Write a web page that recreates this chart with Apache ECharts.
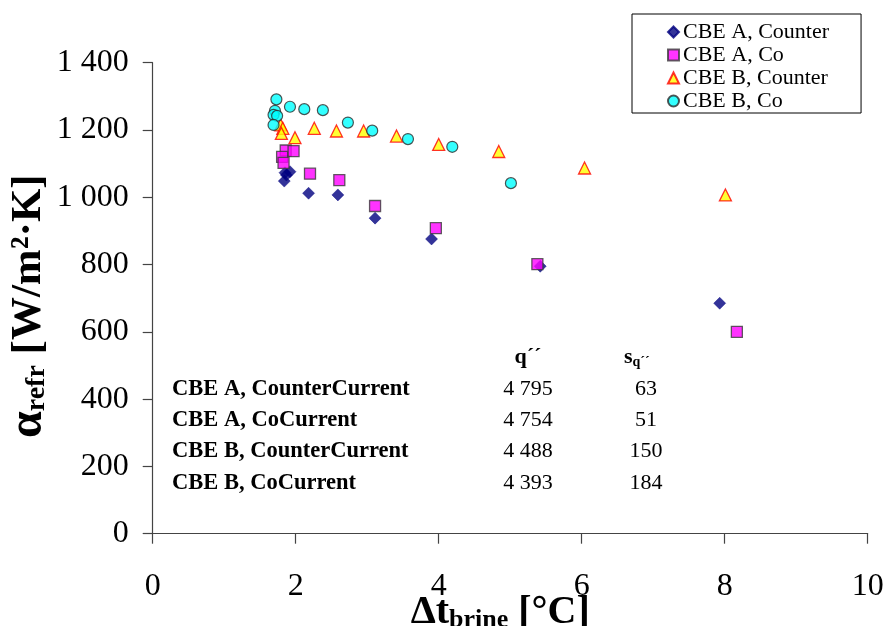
<!DOCTYPE html>
<html>
<head>
<meta charset="utf-8">
<script src="https://cdn.jsdelivr.net/npm/echarts@6/dist/echarts.min.js"></script>
<style>html,body{margin:0;padding:0;background:#fff}#c{width:887px;height:626px}</style>
</head>
<body>
<div id="c"></div>
<script>
// CBE A, Counter current: [Δt_brine, α_refr]
const cbeACounter = [[1.84,1048],[1.87,1066],[1.92,1076],[1.85,1073],[2.18,1012],[2.59,1007],[3.11,938],[3.90,876],[5.42,795],[7.93,685]];
// CBE A, Co current
const cbeACo = [[1.86,1139],[1.97,1137],[1.81,1120],[1.83,1102],[2.20,1070],[2.61,1051],[3.11,974],[3.96,908],[5.38,801],[8.17,600]];
// CBE B, Counter current
const cbeBCounter = [[1.79,1215],[1.82,1205],[1.80,1190],[1.99,1177],[2.26,1205],[2.57,1197],[2.95,1197],[3.41,1182],[4.00,1157],[4.84,1136],[6.04,1087],[8.01,1007]];
// CBE B, Co current
const cbeBCo = [[1.73,1291],[1.92,1269],[2.12,1262],[2.38,1259],[1.71,1257],[1.69,1245],[1.74,1242],[1.69,1215],[2.73,1222],[3.07,1198],[3.57,1173],[4.19,1150],[5.01,1042]];

const seriesNames = ['CBE A, Counter','CBE A, Co','CBE B, Counter','CBE B, Co'];
const tableRows = ['CBE A, CounterCurrent','CBE A, CoCurrent','CBE B, CounterCurrent','CBE B, CoCurrent'];
const tableQ = ['4 795','4 754','4 488','4 393'];
const tableS = ['63','51','150','184'];
const xTicks = [0,2,4,6,8,10];
const yTicks = [0,200,400,600,800,1000,1200,1400];

const FF = '"Liberation Serif","Times New Roman",serif';
const chart = echarts.init(document.getElementById('c'));

function fmtY(v){
  if (v >= 1000) return Math.floor(v/1000) + ' ' + String(v%1000).padStart(3,'0');
  return String(v);
}

const tableGraphics = [];
tableGraphics.push({type:'text', x:528, y:357, style:{text:'q´´', font:'bold 22px '+FF, fill:'#000', textAlign:'center', textVerticalAlign:'middle'}});
tableGraphics.push({type:'text', x:624, y:345, style:{text:'{s|s}{q|q´´}', font:'bold 22px '+FF, fill:'#000',
  rich:{s:{fontSize:22,fontWeight:'bold',fontFamily:FF,fill:'#000'}, q:{fontSize:14,fontWeight:'bold',fontFamily:FF,padding:[10,0,0,0]}}}});
tableRows.forEach((r,i)=>{
  const y = 389 + i*31.3;
  tableGraphics.push({type:'text', x:172, y:y, style:{text:r, font:'bold 22.5px '+FF, fill:'#000', textVerticalAlign:'middle'}});
  tableGraphics.push({type:'text', x:528, y:y, style:{text:tableQ[i], font:'22px '+FF, fill:'#000', textAlign:'center', textVerticalAlign:'middle'}});
  tableGraphics.push({type:'text', x:646, y:y, style:{text:tableS[i], font:'22px '+FF, fill:'#000', textAlign:'center', textVerticalAlign:'middle'}});
});

chart.setOption({
  animation:false,
  backgroundColor:'#fff',
  grid:{left:152.7, right:19.3, top:62.7, bottom:92.3, containLabel:false, outerBoundsMode:'none'},
  legend:{
    orient:'vertical', left:632, top:14,
    padding:[7,32,1,35], itemGap:1, itemWidth:11, itemHeight:11,
    borderColor:'#000', borderWidth:1, backgroundColor:'#fff',
    textStyle:{fontFamily:FF, fontSize:22, color:'#000', padding:[0,0,0,-1]},
    data:seriesNames
  },
  xAxis:{
    type:'value', min:xTicks[0], max:xTicks[xTicks.length-1], interval:2,
    axisLine:{onZero:false, lineStyle:{color:'#444', width:1.2}},
    axisTick:{show:true, length:10, inside:false, lineStyle:{color:'#444', width:1.2}},
    splitLine:{show:false},
    axisLabel:{fontFamily:FF, fontSize:32, color:'#000', margin:37},
    name:'{d|Δt}{s|brine}{d| [°C]}', nameLocation:'middle', nameGap:58, nameMoveOverlap:false,
    nameTextStyle:{fontFamily:FF, fontSize:40, fontWeight:'bold', color:'#000', padding:[0,20,0,0],
      rich:{d:{fontFamily:FF,fontSize:40,fontWeight:'bold',color:'#000'}, s:{fontFamily:FF,fontSize:26,fontWeight:'bold',color:'#000',padding:[16,0,0,0]}}}
  },
  yAxis:{
    type:'value', min:yTicks[0], max:yTicks[yTicks.length-1], interval:200,
    axisLine:{show:true, lineStyle:{color:'#444', width:1.2}},
    axisTick:{show:true, length:10, inside:false, lineStyle:{color:'#444', width:1.2}},
    splitLine:{show:false},
    axisLabel:{fontFamily:FF, fontSize:32, color:'#000', margin:24, formatter:fmtY},
    name:'{a|α}{s|refr}{d| [W/m²·K]}', nameLocation:'middle', nameGap:100, nameMoveOverlap:false,
    nameTextStyle:{fontFamily:FF, fontSize:43, fontWeight:'bold', color:'#000', padding:[0,16,0,0],
      rich:{a:{fontFamily:FF,fontSize:48,fontWeight:'bold',color:'#000'}, d:{fontFamily:FF,fontSize:43,fontWeight:'bold',color:'#000'}, s:{fontFamily:FF,fontSize:28,fontWeight:'bold',color:'#000',padding:[17,0,0,0]}}}
  },
  series:[
    {name:seriesNames[0], type:'scatter', data:cbeACounter, symbol:'diamond', symbolSize:12,
      itemStyle:{color:'#000080', borderColor:'#000080', borderWidth:0.5}},
    {name:seriesNames[1], type:'scatter', data:cbeACo, symbol:'rect', symbolSize:11,
      itemStyle:{color:'#ff00ff', borderColor:'#3a3a3a', borderWidth:1.3}},
    {name:seriesNames[2], type:'scatter', data:cbeBCounter, symbol:'triangle', symbolSize:12,
      itemStyle:{color:'#ffff00', borderColor:'#ff0000', borderWidth:1.3}},
    {name:seriesNames[3], type:'scatter', data:cbeBCo, symbol:'circle', symbolSize:11,
      itemStyle:{color:'#00ffff', borderColor:'#2a2a2a', borderWidth:1.2}}
  ],
  graphic:tableGraphics
});
</script>
</body>
</html>
